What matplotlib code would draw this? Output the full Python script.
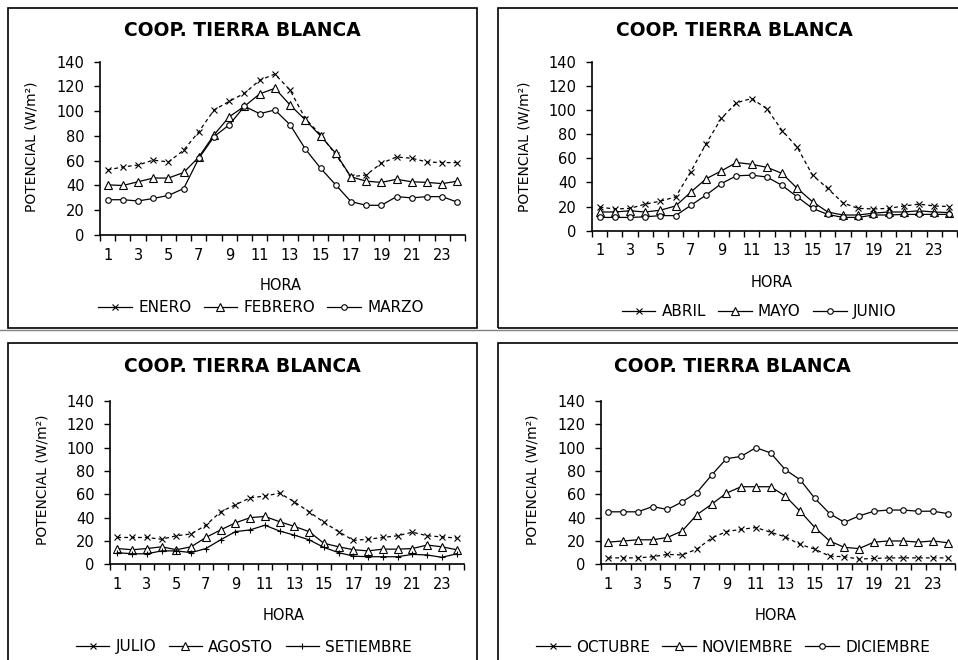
import numpy as np
import matplotlib
matplotlib.use("Agg")
import matplotlib.pyplot as plt
from matplotlib.lines import Line2D
from matplotlib.patches import Rectangle

hora = list(range(1, 25))
tick_horas = list(range(1, 24, 2))
y_ticks = [0, 20, 40, 60, 80, 100, 120, 140]
titulo = "COOP. TIERRA BLANCA"

# panel 1
enero = [52.5, 55, 56.5, 60.5, 59, 68.5, 83.5, 101, 108, 114.5, 125, 130,
         117, 94, 81, 65, 47, 48.5, 58, 63, 62, 59, 58.5, 58.5]
febrero = [40.5, 40, 43, 46, 46, 50.5, 63, 81, 95.5, 104, 114, 118.5,
           105, 93, 80, 66, 47, 43.5, 42.5, 45, 43, 42.5, 41.5, 43.5]
marzo = [28.5, 28.5, 27.5, 29.5, 32, 37.5, 62, 79.5, 89, 104, 98, 101,
         89, 69.5, 54, 40.5, 27, 24, 24, 31, 30, 31, 31, 26.5]

# panel 2
abril = [19.5, 18, 18.5, 22, 24.5, 28, 49, 72, 93, 106, 109.5, 101,
         83, 69, 46, 35, 23, 18.5, 18, 18.5, 20.5, 22, 20.5, 20]
mayo = [15.5, 15.5, 16.5, 15.5, 17, 20.5, 32, 43, 49.5, 56.5, 55, 52.5,
        47.5, 35, 24, 15.5, 13, 13, 14.5, 15.5, 15.5, 16.5, 15.5, 15]
junio = [11, 11, 11, 11.5, 12.5, 12.5, 21, 29.5, 39, 45.5, 46, 44.5,
         37.5, 28, 18.5, 13.5, 11, 11, 13, 13, 13.5, 13.5, 13.5, 13.5]

# panel 3
julio = [23, 23, 23, 21.5, 24.5, 26, 33.5, 45, 51, 57, 58.5, 61,
         53.5, 45, 36, 28, 20.5, 21.5, 23, 24.5, 27.5, 24.5, 23.5, 22.5]
agosto = [13.5, 12.5, 13.5, 15, 12.5, 15, 23, 29.5, 35.5, 40, 41, 36.5,
          32.5, 28, 18, 15, 12.5, 11.5, 13, 13, 13.5, 16.5, 15, 12.5]
setiembre = [10, 9, 9, 11.5, 11.5, 10, 13.5, 21, 28, 29.5, 33.5, 28.5,
             25, 21, 14.5, 10, 7, 6.5, 6.5, 6.5, 8.5, 8, 6, 9]

# panel 4
octubre = [5.5, 5.5, 5.5, 6.5, 8.5, 8, 13, 22.5, 28, 30, 31.5, 27.5,
           23.5, 17, 13, 7, 6.5, 4.5, 5, 5.5, 5.5, 5.5, 5.5, 5.5]
noviembre = [19, 20, 21, 21, 23, 28.5, 42.5, 51.5, 61, 66.5, 66.5, 66.5,
             58.5, 45.5, 31.5, 20, 14.5, 13.5, 19, 20, 20, 19, 20, 18.5]
diciembre = [45, 45, 45, 49.5, 47, 53.5, 61.5, 76.5, 90.5, 92.5, 100, 95.5,
             81, 72.5, 56.5, 43.5, 36, 41.5, 45.5, 46.5, 46.5, 45.5, 45.5, 43.5]

W, H = 958, 660
fig = plt.figure(figsize=(W / 100, H / 100), dpi=100)
plt.rcParams['font.family'] = 'DejaVu Sans'


def px(x, y):
    return x / W, 1 - y / H


def panel(ax_px, series, names, marks, title_xy, label_xy, ylab_xy, legend_xy):
    x0, y_top, x1, y_bot = ax_px
    ax = fig.add_axes([x0 / W, 1 - y_bot / H, (x1 - x0) / W, (y_bot - y_top) / H])
    handles = []
    for i, (vals, name, mk) in enumerate(zip(series, names, marks)):
        ls = (0, (3, 2.5)) if i == 0 else '-'
        mfc = 'white' if mk in ('^', 'o') else 'black'
        ms = 5.5 if mk == '^' else 4
        ax.plot(hora, vals, color='black', lw=0.9, ls=ls, marker=mk,
                ms=ms, mfc=mfc, mec='black', mew=0.8)
        handles.append(Line2D([], [], color='black', lw=0.9, marker=mk,
                              ms=ms, mfc=mfc, mec='black', mew=0.8, label=name))
    ax.set_xlim(0.5, 24.5)
    ax.set_ylim(0, 140)
    ax.set_yticks(y_ticks)
    ax.set_xticks(tick_horas)
    ax.set_xticks(np.arange(0.5, 25, 1), minor=True)
    ax.tick_params(axis='x', which='major', length=0, pad=9, labelsize=10.5)
    ax.tick_params(axis='x', which='minor', length=4, width=1, direction='out')
    ax.tick_params(axis='y', length=4, width=1, pad=7, labelsize=10.5)
    for s in ('top', 'right'):
        ax.spines[s].set_visible(False)
    for s in ('left', 'bottom'):
        ax.spines[s].set_linewidth(1.2)
    fig.text(*px(*title_xy), titulo, ha='center', va='center',
             fontsize=13.5, fontweight='bold')
    fig.text(*px(*label_xy), "HORA", ha='center', va='center', fontsize=10.5)
    fig.text(*px(*ylab_xy), "POTENCIAL (W/m²)", ha='center', va='center',
             rotation=90, fontsize=10)
    fig.legend(handles=handles, loc='center', bbox_to_anchor=px(*legend_xy),
               ncol=3, frameon=False, fontsize=11, handlelength=2.2,
               handletextpad=0.4, columnspacing=0.8)
    return ax


# panel frames
for (x0, y0, x1, y1) in [(8, 8, 477, 328), (498, 8, 965, 328),
                         (8, 343, 477, 670), (498, 343, 965, 670)]:
    fig.patches.append(Rectangle(px(x0, y1), (x1 - x0) / W, (y1 - y0) / H,
                                 transform=fig.transFigure, fill=False,
                                 edgecolor='black', lw=1.2))
fig.add_artist(Line2D([0, 1], [1 - 330 / H] * 2, transform=fig.transFigure,
                      color='gray', lw=1))

panel((100, 61.7, 465, 235), [enero, febrero, marzo],
      ["ENERO", "FEBRERO", "MARZO"], ['x', '^', 'o'],
      (242, 31), (281, 285), (32, 147), (261, 308))
panel((592, 61.7, 957, 230.7), [abril, mayo, junio],
      ["ABRIL", "MAYO", "JUNIO"], ['x', '^', 'o'],
      (734, 31), (772, 283), (525, 147), (759, 312))
panel((110, 401, 464, 564.3), [julio, agosto, setiembre],
      ["JULIO", "AGOSTO", "SETIEMBRE"], ['x', '^', '+'],
      (242, 367), (284, 615), (43, 480), (244, 647))
panel((601, 401, 955, 564.3), [octubre, noviembre, diciembre],
      ["OCTUBRE", "NOVIEMBRE", "DICIEMBRE"], ['x', '^', 'o'],
      (732, 367), (776, 615), (533, 480), (733, 647))

fig.savefig("out.png", dpi=100)
